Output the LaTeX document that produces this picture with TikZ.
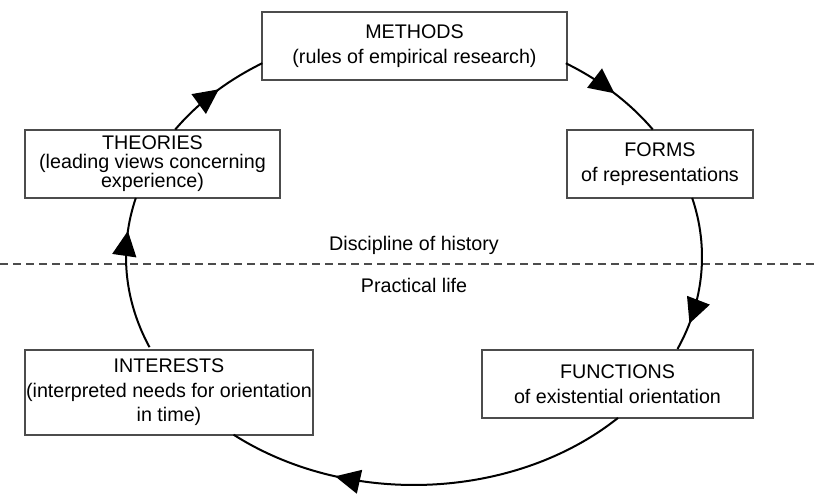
\documentclass[tikz,border=0pt]{standalone}
\usepackage{fontspec}
\setmainfont{Liberation Sans}
\usetikzlibrary{positioning,calc,arrows.meta,decorations.markings}

\begin{document}
\begin{tikzpicture}[
    x=1pt, y=1pt,
    every node/.style={font=\fontsize{19.7}{24.5}\selectfont},
    box/.style={draw=black!70, line width=1.3pt, fill=white, align=center, inner sep=1pt, minimum height=68pt},
    loopline/.style={line width=2pt},
    midarrow/.style={decoration={markings, mark=at position #1 with {\arrow{Triangle[length=25pt,width=24pt]}}}, postaction={decorate}}
]
\useasboundingbox (0,0) rectangle (814,493);

% Mitte des Kreislaufs
\coordinate (cyc) at (414,236);

% Kaesten
\node[box, minimum width=305pt] (methods) at (414.5,447) {METHODS\\(rules of empirical research)};
\node[box, minimum width=255pt, font=\fontsize{19.7}{19}\selectfont] (theories) at (152.5,329) {THEORIES\\(leading views concerning\\experience)};
\node[box, minimum width=186pt] (forms) at (660,329) {FORMS\\of representations};
\node[box, minimum width=288pt, minimum height=85pt] (interests) at (169,100.5) {INTERESTS\\(interpreted needs for orientation\\in time)};
\node[box, minimum width=271pt] (functions) at (617.5,109) {FUNCTIONS\\of existential orientation};

% Trennlinie
\coordinate (dl) at (0,229);
\coordinate (dr) at (814,229);
\coordinate (mid) at (414,229);
\draw[black!70, line width=1.5pt, dash pattern=on 8pt off 5pt] (dl) -- (dr);
\node[above=6pt of mid] (disc) {Discipline of history};
\node[below=11pt of mid] (prac) {Practical life};

% Kreislauf
\draw[loopline, midarrow=0.54] ($(cyc)+(146:288pt and 228pt)$) arc[start angle=146, end angle=121.8, x radius=288pt, y radius=228pt];
\draw[loopline, midarrow=0.52] ($(cyc)+(58.2:288pt and 228pt)$) arc[start angle=58.2, end angle=34, x radius=288pt, y radius=228pt];
\draw[loopline, midarrow=0.82] ($(cyc)+(15:288pt and 228pt)$) arc[start angle=15, end angle=-23.8, x radius=288pt, y radius=228pt];
\draw[loopline, midarrow=0.73] ($(cyc)+(-44.9:288pt and 228pt)$) arc[start angle=-44.9, end angle=-128.8, x radius=288pt, y radius=228pt];
\draw[loopline, midarrow=0.78] ($(cyc)+(203.3:288pt and 228pt)$) arc[start angle=203.3, end angle=165, x radius=288pt, y radius=228pt];

\end{tikzpicture}
\end{document}
